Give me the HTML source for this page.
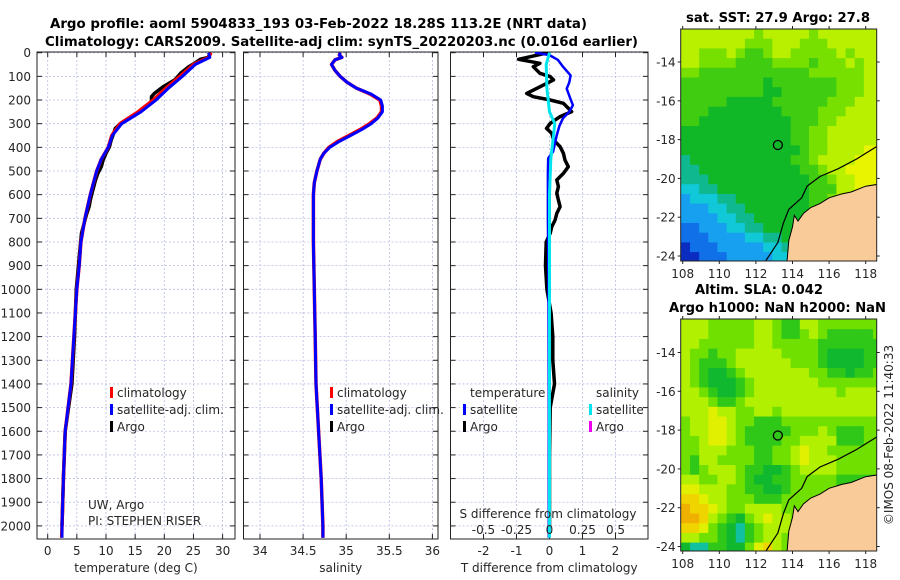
<!DOCTYPE html>
<html><head><meta charset="utf-8"><style>
body{margin:0;background:#fff;}
svg{display:block;font-family:"DejaVu Sans","Liberation Sans",sans-serif;}
.t{font-size:12px;fill:#262626;}
.b{font-weight:bold;font-size:13.5px;fill:#000;}
</style></head><body>
<svg id="fig" width="900" height="580" viewBox="0 0 900 580">
<text class="b" x="50" y="28" textLength="537" lengthAdjust="spacingAndGlyphs">Argo profile: aoml 5904833_193 03-Feb-2022 18.28S 113.2E (NRT data)</text>
<text class="b" x="45" y="46" textLength="593" lengthAdjust="spacingAndGlyphs">Climatology: CARS2009. Satellite-adj clim: synTS_20220203.nc (0.016d earlier)</text>
<text class="b" x="686" y="22" textLength="184" lengthAdjust="spacingAndGlyphs">sat. SST: 27.9 Argo: 27.8</text>
<text class="b" x="695" y="294" textLength="128" lengthAdjust="spacingAndGlyphs">Altim. SLA: 0.042</text>
<text class="b" x="669" y="312" textLength="217" lengthAdjust="spacingAndGlyphs">Argo h1000: NaN h2000: NaN</text>
<text class="t" x="0" y="0" transform="translate(893,435) rotate(-90)" text-anchor="middle">©IMOS 08-Feb-2022 11:40:33</text>
<g id="g"></g>
</svg>
<script>
// ---- data ----
const depthClim=[0,20,50,100,150,200,250,300,350,400,450,500,600,700,800,900,1000,1200,1400,1600,1800,2000,2050];
const tempClim=[28,27.6,25,22.7,20.3,18.1,15.5,12.4,11,10.4,9.2,8.4,7.3,6.4,5.7,5.4,5.0,4.5,4.0,3.0,2.7,2.45,2.4];
const tempSat=[27.6,27.8,25.3,23.1,20.7,18.6,16.0,12.7,11.1,10.4,9.2,8.4,7.3,6.4,5.7,5.4,5.0,4.5,4.0,3.0,2.7,2.45,2.45];
const depthArgo=[0,20,28,45,59,87,101,115,144,172,186,200,214,228,249,270,299,320,341,369,397,425,454,482,510,538,566,594,623,651,679,707,735,763,850,1000,1200,1400,1600,1800,2000];
const tempArgo=[28,27.5,26.2,25.2,24.2,22.8,22.3,21.8,19.8,18.3,17.8,17.8,17.7,17.0,15.9,14.3,12.5,11.6,11.3,10.9,10.6,10.0,9.5,9.2,8.6,8.2,7.9,7.6,7.3,7.1,6.7,6.4,6.1,5.8,5.45,4.9,4.6,4.15,3.0,2.7,2.45];
const depthSal=[0,10,20,30,50,75,100,125,150,175,200,225,250,275,300,325,350,375,400,425,450,500,550,600,800,1000,1200,1400,1600,1800,2000,2050];
const salClim=[34.93,34.92,34.95,34.87,34.83,34.87,34.93,35.01,35.12,35.28,35.39,35.41,35.41,35.36,35.27,35.16,35.03,34.9,34.8,34.74,34.70,34.66,34.63,34.62,34.62,34.63,34.64,34.65,34.68,34.71,34.73,34.73];
const salSat=[34.93,34.92,34.95,34.87,34.83,34.87,34.93,35.01,35.12,35.29,35.40,35.42,35.42,35.37,35.29,35.18,35.05,34.92,34.81,34.74,34.70,34.66,34.63,34.62,34.62,34.63,34.64,34.65,34.68,34.71,34.73,34.73];
const depthDT=[0,10,30,59,96,125,152,190,222,250,277,310,348,418,446,500,700,1000,1500,2050];
const dTSat=[-0.44,0,0.25,0.41,0.64,0.6,0.52,0.62,0.71,0.6,0.41,0.3,0.22,0.11,-0.04,-0.05,-0.05,-0.03,-0.02,-0.02];
const depthDS=[0,50,150,250,300,350,450,600,1000,2050];
const dSSat=[0,-0.025,-0.02,0,0.04,0.03,0.01,0,0,0];
const depthDA=[0,28,45,59,87,101,115,144,172,186,200,214,228,249,270,299,320,341,369,397,425,454,482,510,538,566,594,623,651,679,707,735,763,800,900,1000,1100,1200,1300,1400,1500,1700,2000];
const dTArgo=[-0.04,-0.94,-0.29,-0.49,-0.29,0.02,0.12,-0.29,-0.69,-0.49,0.02,0.42,0.52,0.67,0.32,0.02,-0.09,0.07,0.12,0.32,0.42,0.47,0.57,0.42,0.22,0.27,0.22,0.27,0.32,0.22,0.17,0.07,0.02,-0.1,-0.12,-0.08,0.05,0.1,0.1,0.15,0.02,0,0];
const depthTicks=[0,100,200,300,400,500,600,700,800,900,1000,1100,1200,1300,1400,1500,1600,1700,1800,1900,2000];
const tTicks=[0,5,10,15,20,25,30];
const sTicks=[34,34.5,35,35.5,36];
const sTickLabels=["34","34.5","35","35.5","36"];
const dTicks=[-2,-1,0,1,2];
const dsTicks=[-0.5,-0.25,0,0.25,0.5];
const dsTickLabels=["-0.5","-0.25","0","0.25","0.5"];
const lonTicks=[108,110,112,114,116,118];
const latTicks=[-14,-16,-18,-20,-22,-24];
const sstGrid=[
"8888888878888878888888","8888888777888777888888","8877787667887777787888","8877776666777767778788",
"7766666666666677777788","6666666665666666677788","6666666665566666677788","6666655555666666777888",
"6665555555566667778888","6655555555556667788888","5555555555556677888888","5555555555556677888888",
"5555555555555677888899","4555555555556678888999","4455555555555667889999","4445555555555566788999",
"3344555555555566688999","2333445555555566788999","2223344555555566788999","2222334455555566788999",
"1122233445555666788999","1112222334455666788999","0111222223345666788999","0011122222334666788999"];
const slaGrid=[
"4443333344322443333333","4443333344322343222223","4433333344333332222222","4332334444433332111122",
"4322234444443332111122","4321123444444433221223","4321112344444443333333","4432112344444444434444",
"4443223444444444444444","4445443344344444444444","3445543322233333333333","3445543222223334322233",
"3345543222233444422233","3344433322334544333333","3244333322334544433333","3234443221123444433333",
"4433443211223333322222","5544433221123333322222","6654433322233333322222","7665433444433333222222",
"7764321345443332222222","6653210234443332222222","4433210234432222222222","1002211356432222222222"];
const landLon=[113.7,113.8,114.0,114.1,114.3,114.6,115.0,115.5,116.0,116.7,117.2,118.0,118.7,118.7];
const landLat=[-24.3,-23.2,-22.5,-21.9,-22.2,-21.8,-21.5,-21.3,-21.0,-20.8,-20.7,-20.4,-20.3,-24.3];
const isoLon=[112.5,113.2,113.5,113.8,114.5,114.8,115.5,116.5,117.5,118.7];
const isoLat=[-24.3,-23.3,-22.3,-21.6,-21.0,-20.4,-19.9,-19.5,-19.0,-18.3];
const floatLon=113.2, floatLat=-18.28;
// ---- helpers ----
const NS="http://www.w3.org/2000/svg";
const G=document.getElementById('g');
function el(tag,at,txt){const e=document.createElementNS(NS,tag);for(const k in at)e.setAttribute(k,at[k]);if(txt!==undefined)e.textContent=txt;G.appendChild(e);return e;}
const yD=d=>52.7+d*0.2366;
const xT=t=>47.7+t*5.83;
const xS=s=>260+(s-34)*86.2;
const xD=t=>549.5+t*33;
const xDS=s=>549.5+s*132;
const lonX=l=>682.7+(l-108)*18.3;
const latY1=a=>62+(-14-a)*19.4;
const latY2=a=>352.5+(-14-a)*19.4;
const TOP=52,BOT=539;
function panel(x0,x1,xt,xfun,labels,name,xlabel){
  const c=el('clipPath',{id:'c'+name});
  const r=document.createElementNS(NS,'rect');r.setAttribute('x',x0);r.setAttribute('y',TOP);r.setAttribute('width',x1-x0);r.setAttribute('height',BOT-TOP);c.appendChild(r);
  depthTicks.forEach(d=>{const l=el('line',{x1:x0,x2:x1,y1:yD(d),y2:yD(d),stroke:'#b8bde0','stroke-width':0.8,'stroke-dasharray':'2,2'});
    
    el('line',{x1:x0,x2:x0+5,y1:yD(d),y2:yD(d),stroke:'#222'});el('line',{x1:x1-5,x2:x1,y1:yD(d),y2:yD(d),stroke:'#222'});});
  xt.forEach((v,i)=>{const x=xfun(v);const l=el('line',{x1:x,x2:x,y1:TOP,y2:BOT,stroke:'#b8bde0','stroke-width':0.8,'stroke-dasharray':'2,2'});
    
    el('line',{x1:x,x2:x,y1:BOT-5,y2:BOT,stroke:'#222'});el('line',{x1:x,x2:x,y1:TOP,y2:TOP+5,stroke:'#222'});
    const t=el('text',{class:'t',x:x,y:555,'text-anchor':'middle'},labels[i]);
    });
  const f=el('rect',{x:x0,y:TOP,width:x1-x0,height:BOT-TOP,fill:'none',stroke:'#222','stroke-width':1});
  
  const xl=el('text',{class:'t',x:(x0+x1)/2,y:572,'text-anchor':'middle','font-size':'13px'},xlabel);
  
}
function line(ds,vs,xf,color,w,name,clip){
  const p=ds.map((d,i)=>xf(vs[i]).toFixed(1)+','+yD(d).toFixed(1)).join(' ');
  const e=el('polyline',{points:p,fill:'none',stroke:color,'stroke-width':w,'stroke-linejoin':'round','clip-path':'url(#c'+clip+')'});
  
}
depthTicks.forEach(d=>{const t=el('text',{class:'t',x:31,y:yD(d)+4.5,'text-anchor':'end','font-size':'12.5px'},String(d));
  });
panel(37,235,tTicks,xT,tTicks.map(String),'temperature','temperature (deg C)');
panel(243.5,438,sTicks,xS,sTickLabels,'salinity','salinity');
panel(450.5,648,dTicks,xD,dTicks.map(String),'difference','T difference from climatology');
line(depthArgo,tempArgo,xT,'#000',3.5,'temp-argo-line','temperature');
line(depthClim,tempClim,xT,'#f00',3.5,'temp-climatology-line','temperature');
line(depthClim,tempSat,xT,'#0000ff',3,'temp-satellite-line','temperature');
line(depthSal,salClim,xS,'#f00',3.5,'sal-climatology-line','salinity');
line(depthSal,salSat,xS,'#0000ff',3,'sal-satellite-line','salinity');
line(depthDA,dTArgo,xD,'#000',3.5,'dT-argo-line','difference');
line(depthDT,dTSat,xD,'#0000ff',2.5,'dT-satellite-line','difference');
line(depthDS,dSSat,xDS,'#00e5ee',3,'dS-satellite-line','difference');
function leg(x,y,c,txt,name){el('rect',{x:x,y:y-10,width:3,height:11,fill:c});
  const t=el('text',{class:'t',x:x+7,y:y,'font-size':'13px'},txt);}
[[110,'temperature'],[330,'salinity']].forEach(([x,n])=>{leg(x,397,'#f00','climatology',n+'-legend-climatology');leg(x,414,'#0000ff','satellite-adj. clim.',n+'-legend-satellite');leg(x,431,'#000','Argo',n+'-legend-argo');});
let t1=el('text',{class:'t',x:470,y:397,'font-size':'13px'},'temperature');
let t2=el('text',{class:'t',x:596,y:397,'font-size':'13px'},'salinity');
leg(463,414,'#0000ff','satellite','diff-legend-temp-satellite');leg(463,431,'#000','Argo','diff-legend-temp-argo');
leg(589,414,'#00e5ee','satellite','diff-legend-sal-satellite');leg(589,431,'#ee00ee','Argo','diff-legend-sal-argo');
let u1=el('text',{class:'t',x:88,y:509,'font-size':'11px'},'UW, Argo');
let u2=el('text',{class:'t',x:88,y:525,'font-size':'11px'},'PI: STEPHEN RISER');
let s1=el('text',{class:'t',x:548,y:518,'text-anchor':'middle','font-size':'13px'},'S difference from climatology');
dsTicks.forEach((v,i)=>{const t=el('text',{class:'t',x:xDS(v),y:534,'text-anchor':'middle','font-size':'13px'},dsTickLabels[i]);});
const sstPal=['#0a2cc0','#1070e8','#18a0f0','#10c8d8','#10b890','#10b828','#40cc10','#78e000','#b8f000','#e8f400'];
const slaPal=['#10c0a0','#10b830','#30c818','#70e000','#b0f000','#e0f000','#f0d400','#f0b000'];
function map(grid,pal,latY,top,name){
  const x0=680.7,x1=876.7,bot=top+232;
  const c=el('clipPath',{id:'m'+name});const r=document.createElementNS(NS,'rect');r.setAttribute('x',x0);r.setAttribute('y',top);r.setAttribute('width',x1-x0);r.setAttribute('height',bot-top);c.appendChild(r);
  const g=el('g',{'clip-path':'url(#m'+name+')'});
  grid.forEach((row,ri)=>{for(let ci=0;ci<row.length;ci++){
    const lon=107.9+ci*0.5,lat=-12.3-ri*0.5;
    const rc=document.createElementNS(NS,'rect');
    rc.setAttribute('x',lonX(lon));rc.setAttribute('y',latY(lat));rc.setAttribute('width',0.5*18.3+0.6);rc.setAttribute('height',0.5*19.4+0.6);
    rc.setAttribute('fill',pal[+row[ci]]);
    
    
    g.appendChild(rc);}});
  const lp=landLon.map((l,i)=>lonX(l).toFixed(1)+','+latY(landLat[i]).toFixed(1)).join(' ');
  const land=document.createElementNS(NS,'polygon');land.setAttribute('points',lp);land.setAttribute('fill','#f9cb98');land.setAttribute('stroke','#000');land.setAttribute('stroke-width','1');
  g.appendChild(land);
  const ip=isoLon.map((l,i)=>lonX(l).toFixed(1)+','+latY(isoLat[i]).toFixed(1)).join(' ');
  const iso=document.createElementNS(NS,'polyline');iso.setAttribute('points',ip);iso.setAttribute('fill','none');iso.setAttribute('stroke','#000');iso.setAttribute('stroke-width','1.2');
  g.appendChild(iso);
  const m=el('circle',{cx:lonX(floatLon),cy:latY(floatLat),r:4.5,fill:'none',stroke:'#000','stroke-width':1.3});
  
  const f=el('rect',{x:x0,y:top,width:x1-x0,height:bot-top,fill:'none',stroke:'#222'});
  
  lonTicks.forEach(l=>{const x=lonX(l);el('line',{x1:x,x2:x,y1:bot,y2:bot+3,stroke:'#222'});el('line',{x1:x,x2:x,y1:top-3,y2:top,stroke:'#222'});
    const t=el('text',{class:'t',x:x,y:bot+17,'text-anchor':'middle','font-size':'12.5px'},String(l));});
  latTicks.forEach(a=>{const y=latY(a);el('line',{x1:x0-3,x2:x0,y1:y,y2:y,stroke:'#222'});el('line',{x1:x1,x2:x1+3,y1:y,y2:y,stroke:'#222'});
    const t=el('text',{class:'t',x:x0-5,y:y+4.5,'text-anchor':'end','font-size':'12.5px'},String(a));});
}
map(sstGrid,sstPal,latY1,29,'sst-map');
map(slaGrid,slaPal,latY2,319,'sla-map');
</script>
</body></html>
